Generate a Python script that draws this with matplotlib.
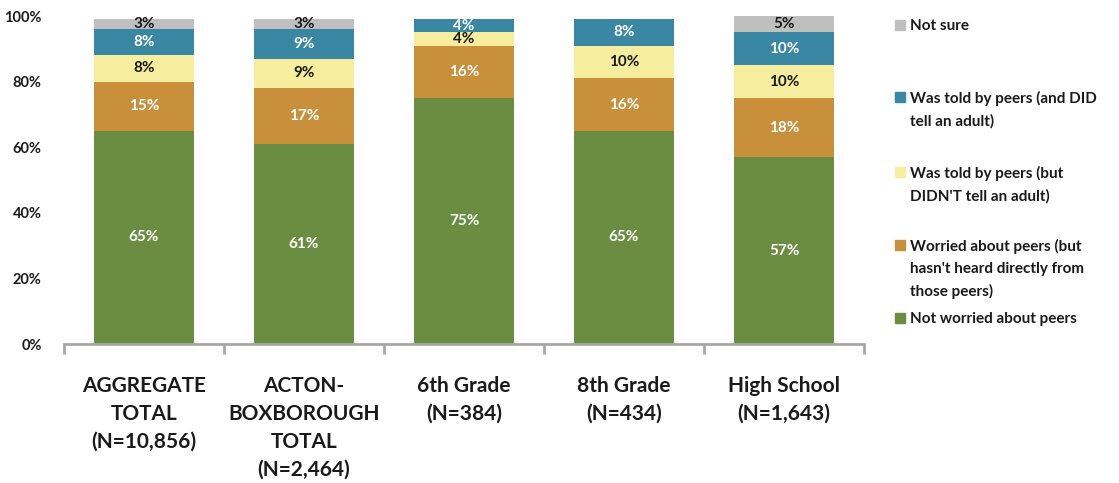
import matplotlib
matplotlib.use("Agg")
import matplotlib.pyplot as plt
from matplotlib.patches import Rectangle
import numpy as np

plt.rcParams['font.family'] = ['Lato', 'DejaVu Sans']
plt.rcParams['font.weight'] = 'bold'

categories = ["AGGREGATE\nTOTAL\n(N=10,856)",
              "ACTON-\nBOXBOROUGH\nTOTAL\n(N=2,464)",
              "6th Grade\n(N=384)",
              "8th Grade\n(N=434)",
              "High School\n(N=1,643)"]

series_names = ["Not worried about peers",
                "Worried about peers (but\nhasn't heard directly from\nthose peers)",
                "Was told by peers (but\nDIDN'T tell an adult)",
                "Was told by peers (and DID\ntell an adult)",
                "Not sure"]

not_worried = [65, 61, 75, 65, 57]
worried = [15, 17, 16, 16, 18]
told_not_tell = [8, 9, 4, 10, 10]
told_did_tell = [8, 9, 4, 8, 10]
not_sure = [3, 3, 0, 0, 5]

series = [not_worried, worried, told_not_tell, told_did_tell, not_sure]
colors = ["#6A8D42", "#C8903B", "#F6EE9E", "#3A87A4", "#BFBFBF"]
text_colors = ["white", "white", "#1a1a1a", "white", "#1a1a1a"]

fig = plt.figure(figsize=(11.19, 4.83), dpi=100)
ax = fig.add_axes([64 / 1119, 1 - 344 / 483, 800 / 1119, 328 / 483])

x = np.arange(len(categories))
bottom = np.zeros(len(categories))
for vals, col, tcol in zip(series, colors, text_colors):
    vals = np.array(vals, dtype=float)
    ax.bar(x, vals, width=0.625, bottom=bottom, color=col, edgecolor='none')
    for xi, b, v in zip(x, bottom, vals):
        if v > 0:
            ax.text(xi, b + v / 2, f"{int(v)}%", ha='center', va='center',
                    color=tcol, fontsize=11, fontweight='bold')
    bottom += vals

ax.set_xlim(-0.5, len(categories) - 0.5)
ax.set_ylim(0, 100)
ax.set_yticks(np.arange(0, 101, 20))
ax.set_yticklabels([f"{v}%" for v in range(0, 101, 20)], fontsize=10.5,
                   fontweight='bold', color='#1a1a1a')
ax.tick_params(axis='y', length=0, pad=16)

ax.set_xticks(x)
ax.set_xticklabels(categories, fontsize=15, fontweight='bold', color='#1a1a1a',
                   linespacing=1.5, va='top')
ax.tick_params(axis='x', which='major', length=0, pad=23)
ax.set_xticks(np.arange(-0.5, len(categories), 1), minor=True)
ax.tick_params(axis='x', which='minor', length=7, width=2, color='#A6A6A6')

for s in ['top', 'right', 'left']:
    ax.spines[s].set_visible(False)
ax.spines['bottom'].set_color('#A6A6A6')
ax.spines['bottom'].set_linewidth(2)

# legend drawn at the right, top-down from "Not sure"
legend_rows = [(4, 25), (3, 97), (2, 172), (1, 245), (0, 318)]
for idx, ypx in legend_rows:
    fig.patches.append(Rectangle((895 / 1119, 1 - (ypx + 5) / 483), 10 / 1119, 10 / 483,
                                 transform=fig.transFigure, color=colors[idx]))
    fig.text(910 / 1119, 1 - (ypx - 6) / 483, series_names[idx], ha='left', va='top',
             fontsize=11, fontweight='bold', color='#1a1a1a', linespacing=1.7)

fig.savefig("out.png", dpi=100)
